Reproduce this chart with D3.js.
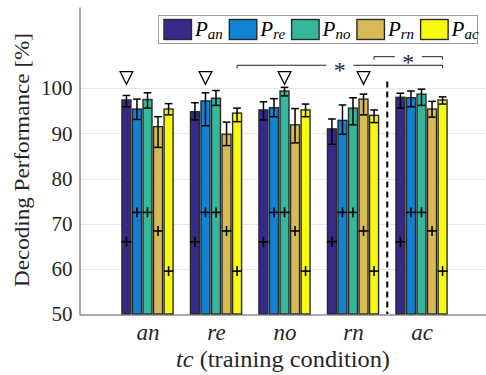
<!DOCTYPE html>
<html><head><meta charset="utf-8">
<script src="https://cdn.jsdelivr.net/npm/d3@7"></script>
<style>body{margin:0;background:#fff} svg{display:block}</style>
</head><body><svg id="chart" width="486" height="375"></svg>
<script>
// ---- data ----
const categories = ["an", "re", "no", "rn", "ac"];
const seriesNames = ["an", "re", "no", "rn", "ac"];
const colors = ["#352a87", "#1283d4", "#35b79c", "#d7ba55", "#f8fa0d"];
const yTicks = [50, 60, 70, 80, 90, 100];

// mean decoding performance per series, across training conditions (an, re, no, rn, ac)
const P_an = [97.4, 94.8, 95.2, 91.0, 98.0];
const P_re = [95.4, 97.2, 95.7, 92.9, 97.9];
const P_no = [97.5, 97.8, 99.4, 95.6, 98.7];
const P_rn = [91.5, 89.8, 91.9, 97.6, 95.4];
const P_ac = [95.4, 94.5, 95.2, 94.0, 97.4];
// error bar upper ends
const hi_an = [98.4, 96.8, 97.0, 93.2, 98.9];
const hi_re = [97.6, 99.0, 97.7, 96.3, 99.4];
const hi_no = [99.0, 99.5, 100.2, 97.9, 99.8];
const hi_rn = [93.7, 92.5, 95.5, 98.7, 97.1];
const hi_ac = [96.6, 95.6, 96.5, 95.2, 98.1];
// error bar lower ends
const lo_an = [95.9, 93.0, 93.0, 87.6, 95.6];
const lo_re = [93.1, 91.7, 93.7, 89.8, 95.9];
const lo_no = [95.6, 96.2, 98.3, 91.9, 96.2];
const lo_rn = [86.9, 87.3, 87.9, 94.1, 93.6];
const lo_ac = [94.1, 92.6, 93.7, 92.4, 96.5];
// chance level per series ("+" markers)
const chance = [66.0, 72.5, 72.5, 68.4, 59.5];
// nabla markers: category index and series index, shared level
const nablaCat = [0, 1, 2, 3];
const nablaSeries = [0, 1, 2, 3];
const nablaLevel = 102.3;
// significance brackets: [cat, series] from / to, level
const sigFrom = [[1, 4], [3, 4]];
const sigTo = [[4, 4], [4, 4]];
const sigLevel = [105.1, 107.0];
const dividerAt = 4.5, dividerTop = 101.5;

const means = [P_an, P_re, P_no, P_rn, P_ac];
const his = [hi_an, hi_re, hi_no, hi_rn, hi_ac];
const los = [lo_an, lo_re, lo_no, lo_rn, lo_ac];

// ---- chart ----
const font = "Liberation Serif";
const svg = d3.select("#chart");
const x = d3.scaleLinear().domain([0, 6]).range([79, 490]);
const y = d3.scaleLinear().domain([50, 118]).range([314, 7]);
const step = 0.1538, barW = 0.131;
const cx = (c, s) => x(c + 1 + (s - 2) * step);

// grid
svg.append("g").selectAll("line").data(yTicks.filter(t => t > 50)).join("line")
  .attr("x1", x(0)).attr("x2", x(6))
  .attr("y1", d => Math.round(y(d)) + 0.5).attr("y2", d => Math.round(y(d)) + 0.5)
  .attr("stroke", "#e6e6e6").attr("stroke-width", 1);

// bars
const cells = [];
means.forEach((arr, s) => arr.forEach((v, c) => cells.push({c, s, v, hi: his[s][c], lo: los[s][c]})));
svg.append("g").selectAll("rect").data(cells).join("rect")
  .attr("x", d => cx(d.c, d.s) - (x(barW) - x(0)) / 2)
  .attr("width", x(barW) - x(0))
  .attr("y", d => y(d.v))
  .attr("height", d => y(50) - y(d.v))
  .attr("fill", d => colors[d.s])
  .attr("stroke", "#2a2a2a").attr("stroke-width", 1.4);

// error bars
const capW = (x(0.056) - x(0));
const eb = svg.append("g").attr("stroke", "#000").attr("stroke-width", 1.5).attr("fill", "none");
cells.forEach(d => {
  const X = cx(d.c, d.s);
  eb.append("line").attr("x1", X).attr("x2", X).attr("y1", y(d.lo)).attr("y2", y(d.hi));
  eb.append("line").attr("x1", X - capW).attr("x2", X + capW).attr("y1", y(d.lo)).attr("y2", y(d.lo));
  eb.append("line").attr("x1", X - capW).attr("x2", X + capW).attr("y1", y(d.hi)).attr("y2", y(d.hi));
});

// chance "+" markers
const pl = svg.append("g").attr("stroke", "#000").attr("stroke-width", 1.6);
cells.forEach(d => {
  const X = cx(d.c, d.s), Y = y(chance[d.s]);
  pl.append("line").attr("x1", X - 5).attr("x2", X + 5).attr("y1", Y).attr("y2", Y);
  pl.append("line").attr("x1", X).attr("x2", X).attr("y1", Y - 5).attr("y2", Y + 5);
});

// nabla markers
const nb = svg.append("g").attr("stroke", "#000").attr("stroke-width", 1.3).attr("fill", "none");
nablaCat.forEach((c, i) => {
  const X = cx(c, nablaSeries[i]), Y = y(nablaLevel);
  nb.append("path").attr("d", `M${X - 6.3},${Y - 6.2}L${X + 6.3},${Y - 6.2}L${X},${Y + 6.3}Z`);
});

// divider
svg.append("line").attr("x1", x(dividerAt)).attr("x2", x(dividerAt))
  .attr("y1", y(dividerTop)).attr("y2", y(50))
  .attr("stroke", "#000").attr("stroke-width", 2).attr("stroke-dasharray", "6,4");

// significance brackets
const sg = svg.append("g");
sigFrom.forEach((f, i) => {
  const x1 = cx(f[0], f[1]), x2 = cx(sigTo[i][0], sigTo[i][1]), Y = y(sigLevel[i]);
  const mid = (x1 + x2) / 2, gap = 13.5;
  sg.append("path").attr("fill", "none").attr("stroke", "#222").attr("stroke-width", 1)
    .attr("d", `M${x1},${Y + 3}V${Y}H${mid - gap}M${mid + gap},${Y}H${x2}V${Y + 3}`);
  sg.append("text").attr("x", mid).attr("y", Y + 13).attr("text-anchor", "middle")
    .attr("font-family", font).attr("font-size", 24).attr("fill", "#262626").text("*");
});

// axes
const yAxis = svg.append("g").attr("transform", "translate(79.5,0)")
  .call(d3.axisLeft(y).tickValues(yTicks).tickSize(0).tickPadding(7));
yAxis.select(".domain").attr("stroke", "#555");
yAxis.selectAll("text").attr("font-family", font).attr("font-size", 21).attr("fill", "#262626");

const xAxis = svg.append("g").attr("transform", "translate(0,314.5)")
  .call(d3.axisBottom(x).tickValues([1, 2, 3, 4, 5]).tickFormat(i => categories[i - 1]).tickSize(0).tickPadding(9));
xAxis.select(".domain").attr("stroke", "#555");
xAxis.selectAll("text").attr("font-family", font).attr("font-size", 23).attr("font-style", "italic").attr("fill", "#262626");

// axis titles
svg.append("text").attr("transform", "translate(29,160) rotate(-90)")
  .attr("text-anchor", "middle").attr("font-family", font).attr("font-size", 21.5)
  .attr("fill", "#262626").attr("textLength", 254).attr("lengthAdjust", "spacingAndGlyphs")
  .text("Decoding Performance [%]");
const xt = svg.append("text").attr("x", 283).attr("y", 367).attr("text-anchor", "middle")
  .attr("font-family", font).attr("font-size", 22.5).attr("fill", "#262626")
  .attr("textLength", 214).attr("lengthAdjust", "spacingAndGlyphs");
xt.append("tspan").attr("font-style", "italic").text("tc");
xt.append("tspan").text(" (training condition)");

// legend
const lg = svg.append("g");
lg.append("rect").attr("x", 158.5).attr("y", 15.5).attr("width", 319).attr("height", 28)
  .attr("fill", "#fff").attr("stroke", "#9a9a9a").attr("stroke-width", 1);
let lx = 164;
seriesNames.forEach((n, i) => {
  lg.append("rect").attr("x", lx).attr("y", 19.5).attr("width", 27.5).attr("height", 20)
    .attr("fill", colors[i]).attr("stroke", "#2a2a2a").attr("stroke-width", 1.4);
  const t = lg.append("text").attr("x", lx + 31).attr("y", 35.5)
    .attr("font-family", font).attr("font-size", 21).attr("font-style", "italic").attr("fill", "#000");
  t.append("tspan").text("P");
  t.append("tspan").attr("font-size", 15).attr("dy", 3).text(n);
  lx = lx + 31 + t.node().getComputedTextLength() + 6.5;
});
</script>
</body></html>
